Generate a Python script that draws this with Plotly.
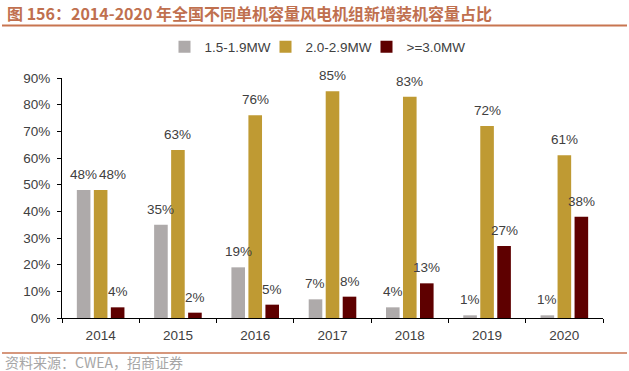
import plotly.graph_objects as go

years = ["2014", "2015", "2016", "2017", "2018", "2019", "2020"]
series_names = ["1.5-1.9MW", "2.0-2.9MW", ">=3.0MW"]
s_15_19 = [48, 35, 19, 7, 4, 1, 1]
s_20_29 = [48, 63, 76, 85, 83, 72, 61]
s_30 = [4, 2, 5, 8, 13, 27, 38]
y_ticks = [0, 10, 20, 30, 40, 50, 60, 70, 80, 90]

colors = ["#AEAAAA", "#BF9A33", "#5E0000"]
label_font = dict(family="Liberation Sans, Arial, sans-serif", size=13.5, color="#404040")

L, R, T, B = 62, 26, 78, 53
W, H = 629, 371
pw, ph = W - L - R, H - T - B
BARGAP = 0.34
def px(x):
    return (x - L) / pw
def py(y):
    return (H - B - y) / ph

slot = pw / len(years) * (1 - BARGAP) / 3

fig = go.Figure()
all_series = [s_15_19, s_20_29, s_30]
for si, (name, vals, col) in enumerate(zip(series_names, all_series, colors)):
    fig.add_trace(go.Bar(
        x=years, y=vals, name=name,
        marker=dict(color=col, line=dict(width=0)),
    ))
    for ci, (yr, v) in enumerate(zip(years, vals)):
        dx = (si - 1) * slot
        # separate the two equal 48% labels in 2014 like the reference
        if yr == "2014" and si == 1:
            dx += 12
        fig.add_annotation(
            x=ci, y=v, xref="x", yref="y", text=f"{v}%", showarrow=False,
            xanchor="center", yanchor="bottom", xshift=dx, yshift=6,
            font=label_font,
        )

fig.update_layout(
    width=W, height=H,
    margin=dict(l=L, r=R, t=T, b=B, autoexpand=False),
    paper_bgcolor="white", plot_bgcolor="white",
    barmode="group", bargap=BARGAP, bargroupgap=0.2,
    font=dict(family="Liberation Sans, Arial, sans-serif", size=13, color="#404040"),
    showlegend=True,
    legend=dict(orientation="h", x=px(316), y=py(47), xanchor="center", yanchor="middle",
                font=dict(size=13.5, color="#404040"), itemwidth=30, traceorder="normal",
                entrywidth=56, bgcolor="rgba(0,0,0,0)"),
    xaxis=dict(type="category", range=[-0.5, len(years) - 0.5],
               showline=True, linecolor="#000000", linewidth=1,
               ticks="outside", tickson="boundaries", ticklen=4, tickcolor="#000000",
               ticklabelstandoff=5,
               tickfont=dict(size=13.5, color="#404040"), showgrid=False, zeroline=False),
    yaxis=dict(range=[0, 90], tickvals=y_ticks, ticktext=[f"{v}%" for v in y_ticks],
               showline=True, linecolor="#000000", linewidth=1, ticks="outside",
               ticklen=4, tickcolor="#000000", ticklabelstandoff=4,
               tickfont=dict(size=13.5, color="#404040"),
               showgrid=False, zeroline=False),
)

fig.add_annotation(
    text="图 156：2014-2020 年全国不同单机容量风电机组新增装机容量占比",
    xref="paper", yref="paper", x=px(5), y=py(13), xanchor="left", yanchor="middle",
    showarrow=False,
    font=dict(family="Noto Sans CJK SC, sans-serif", size=16, color="#C0704F", weight="bold"),
)
fig.add_shape(type="line", xref="paper", yref="paper", x0=px(2), x1=px(627),
              y0=py(25.5), y1=py(25.5), line=dict(color="#C87550", width=2))
fig.add_shape(type="line", xref="paper", yref="paper", x0=px(2), x1=px(627),
              y0=py(353), y1=py(353), line=dict(color="#C87550", width=1.5))
fig.add_annotation(
    text="资料来源：CWEA，招商证券",
    xref="paper", yref="paper", x=px(3), y=py(362), xanchor="left", yanchor="middle",
    showarrow=False,
    font=dict(family="Noto Sans CJK SC, sans-serif", size=14, color="#A6A6A6"),
)

fig.write_html("out.html", config={"displayModeBar": False},
               post_script="document.body.style.margin='0px';")
